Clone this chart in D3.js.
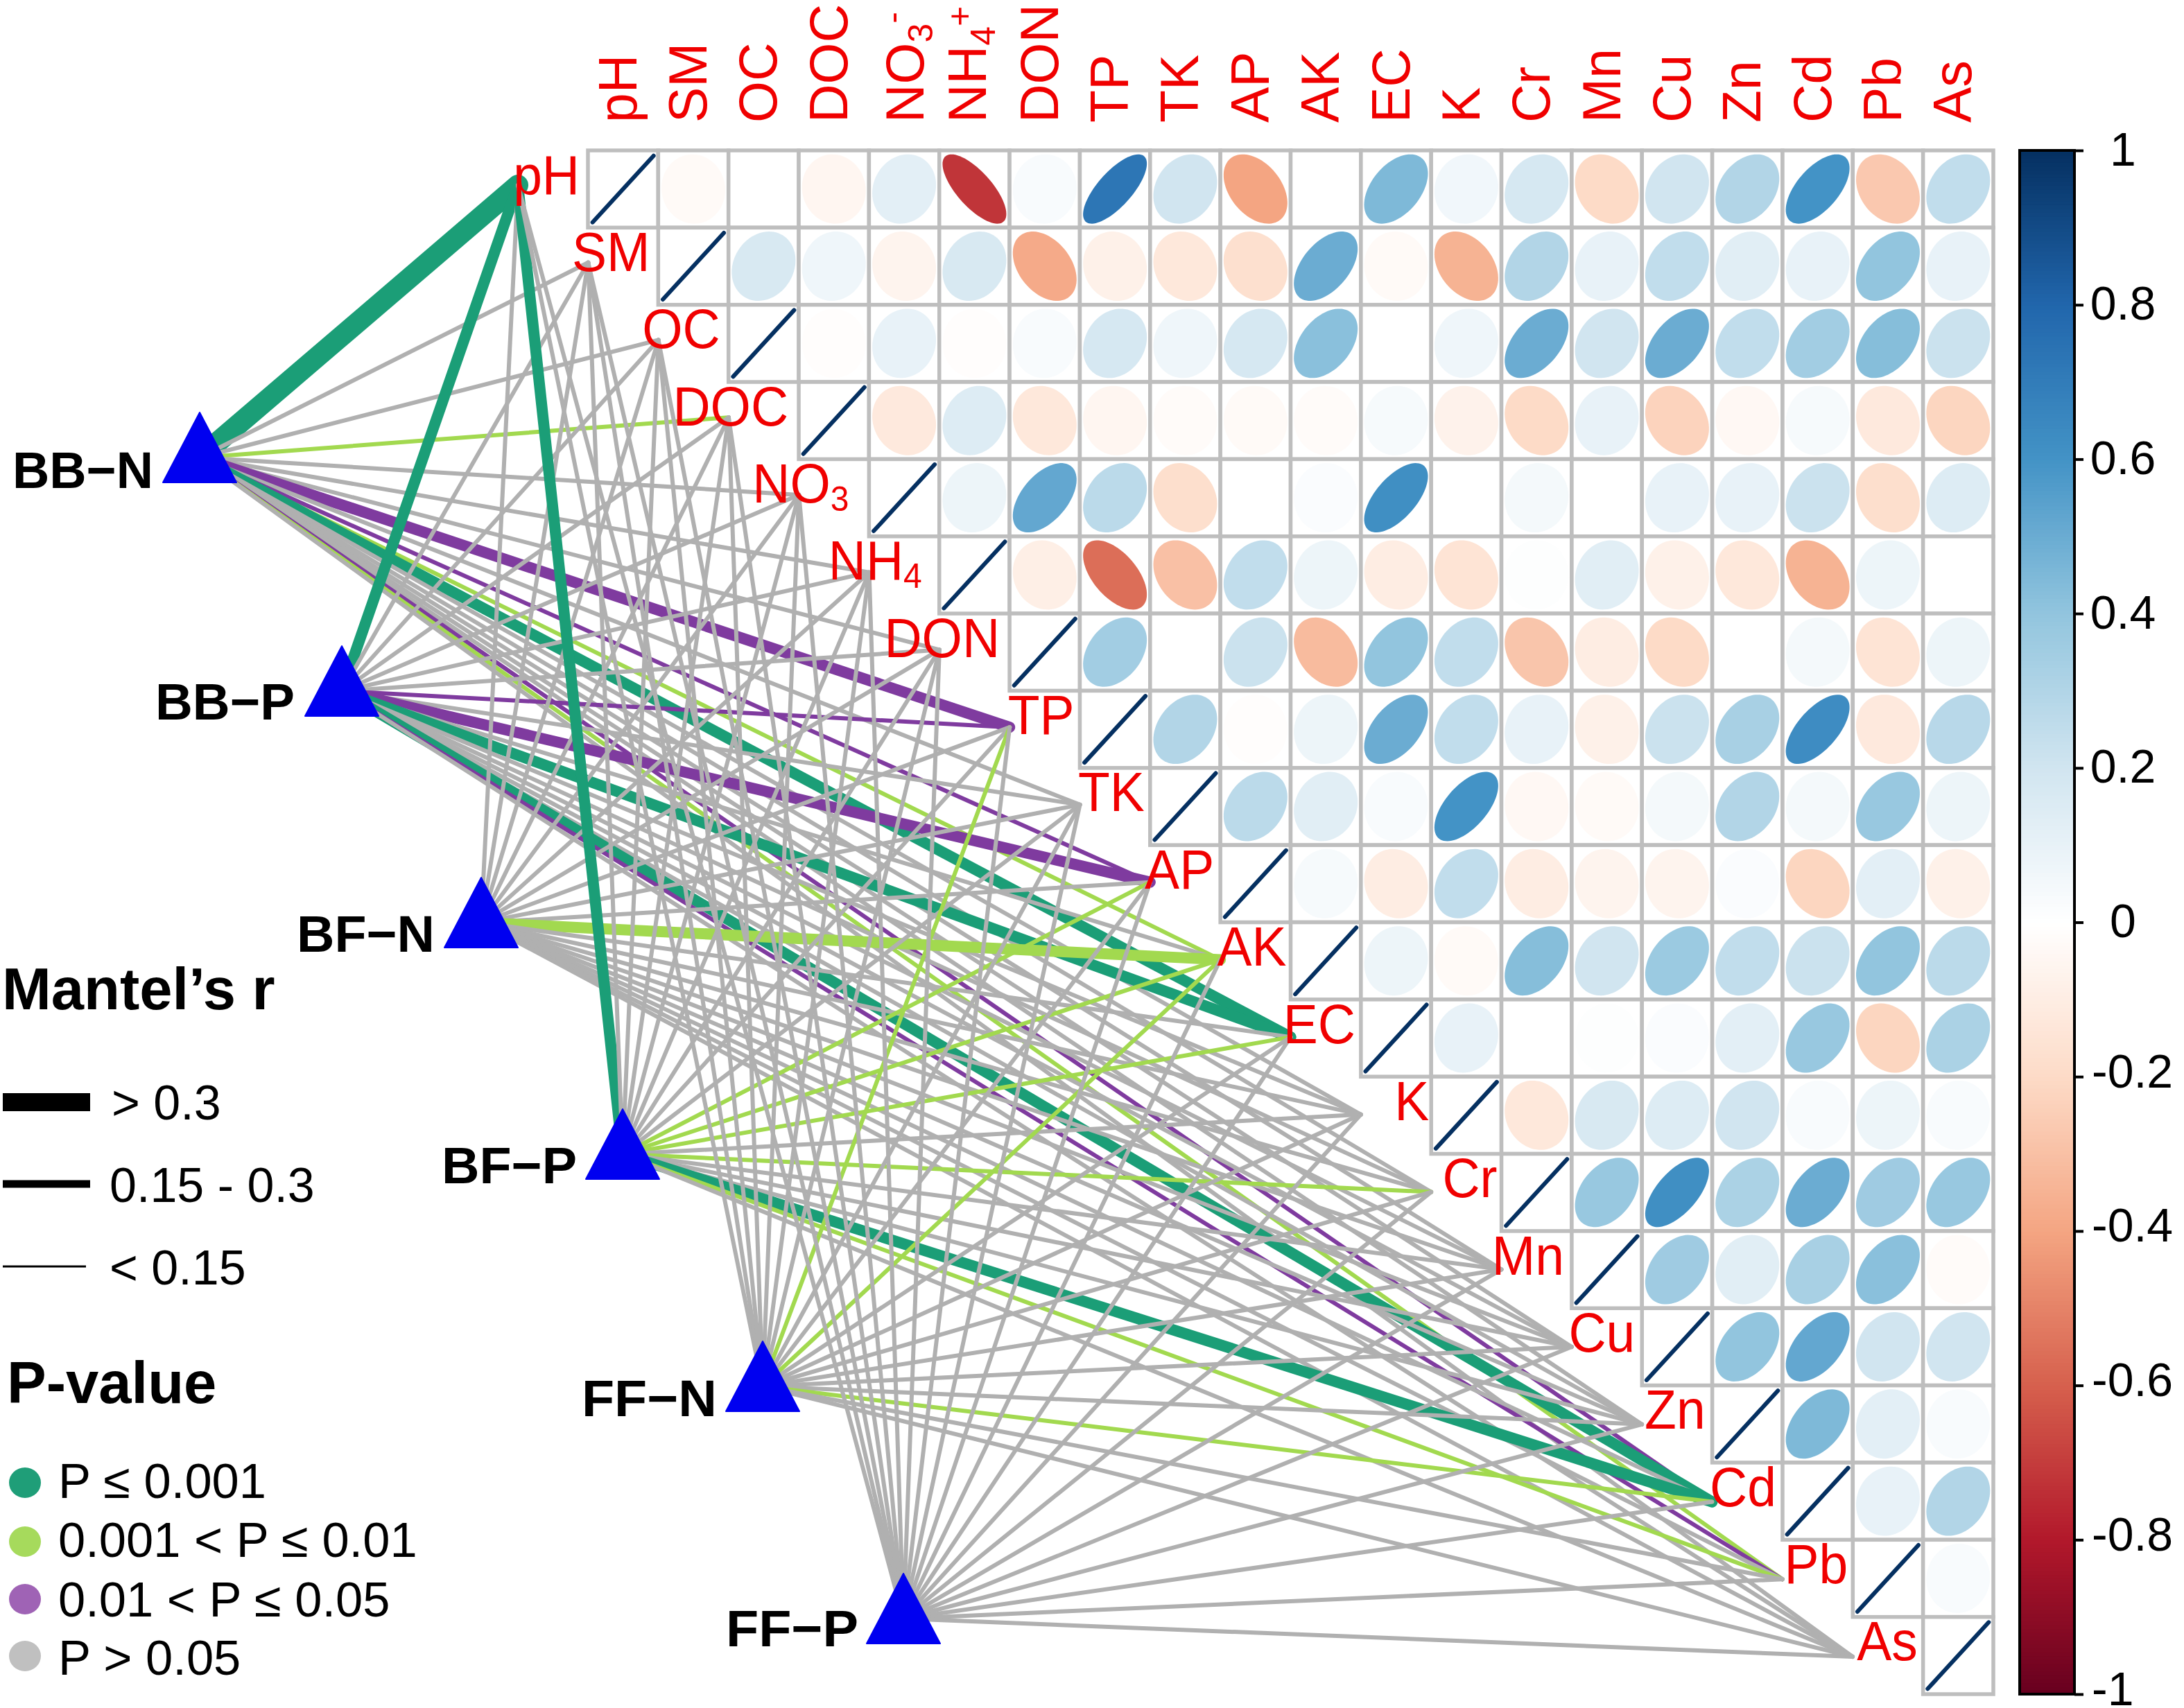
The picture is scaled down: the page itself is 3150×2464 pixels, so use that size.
<!DOCTYPE html>
<html><head><meta charset="utf-8">
<script src="https://cdn.jsdelivr.net/npm/d3@7"></script>
<style>html,body{margin:0;padding:0;background:#fff}svg{display:block}text{font-family:"Liberation Sans",Arial,sans-serif}</style>
</head><body><svg id="c" width="3150" height="2464" xmlns="http://www.w3.org/2000/svg"></svg>
<script>
const envs=["pH","SM","OC","DOC","NO3","NH4","DON","TP","TK","AP","AK","EC","K","Cr","Mn","Cu","Zn","Cd","Pb","As"];
const specs=["BB−N","BB−P","BF−N","BF−P","FF−N","FF−P"];
// upper-triangle correlations, each row starts right after its diagonal cell
const corPH=[-0.03,0,-0.05,0.12,-0.72,0.03,0.73,0.2,-0.4,0,0.45,0.06,0.18,-0.2,0.2,0.3,0.6,-0.27,0.25];
const corSM=[0.17,0.07,-0.06,0.17,-0.38,-0.08,-0.13,-0.17,0.5,-0.03,-0.35,0.3,0.1,0.25,0.13,0.1,0.4,0.1];
const corOC=[-0.01,0.1,-0.01,0.03,0.18,0.07,0.18,0.42,0,0.07,0.5,0.2,0.5,0.25,0.35,0.43,0.22];
const corDOC=[-0.12,0.15,-0.13,-0.05,-0.02,-0.03,-0.02,0.04,-0.07,-0.2,0.1,-0.23,-0.04,0.04,-0.12,-0.22];
const corNO3=[0.08,0.52,0.27,-0.18,0,0.02,0.62,0,0.05,0,0.1,0.1,0.22,-0.18,0.15];
const corNH4=[-0.09,-0.56,-0.3,0.25,0.08,-0.1,-0.15,0.01,0.13,-0.08,-0.13,-0.35,0.08,0];
const corDON=[0.35,0,0.22,-0.32,0.4,0.25,-0.28,-0.1,-0.2,0,0.05,-0.15,0.08];
const corTP=[0.3,-0.01,0.08,0.5,0.25,0.1,-0.08,0.22,0.33,0.63,-0.12,0.28];
const corTK=[0.27,0.13,0.03,0.6,-0.04,-0.03,0.05,0.3,0.05,0.38,0.08];
const corAP=[0.04,-0.1,0.25,-0.1,-0.06,-0.06,0.02,-0.22,0.12,-0.08];
const corAK=[0.08,-0.03,0.43,0.2,0.37,0.25,0.22,0.4,0.27];
const corEC=[0.1,0,0.01,0.02,0.12,0.38,-0.22,0.32];
const corK=[-0.13,0.17,0.15,0.2,0.03,0.08,0.03];
const corCr=[0.38,0.62,0.32,0.5,0.36,0.38];
const corMn=[0.36,0.13,0.33,0.42,-0.02];
const corCu=[0.4,0.52,0.2,0.2];
const corZn=[0.45,0.12,0.03];
const corCd=[0.1,0.3];
const corPb=[0.03];
const corRows=[corPH,corSM,corOC,corDOC,corNO3,corNH4,corDON,corTP,corTK,corAP,corAK,corEC,corK,corCr,corMn,corCu,corZn,corCd,corPb,[]];
// Mantel links: P class 0 >0.05, 1 <=0.001, 2 <=0.01, 3 <=0.05 ; r class 0 <0.15, 1 0.15-0.3, 2 >0.3
const pBBN=[1,0,0,2,0,0,0,3,0,3,2,1,0,0,0,0,0,3,2,0];
const rBBN=[2,0,0,0,0,0,0,1,0,0,0,1,0,0,0,0,0,0,0,0];
const pBBP=[1,0,0,0,0,0,0,3,0,3,0,1,0,0,0,0,0,1,3,0];
const rBBP=[1,0,0,0,0,0,0,0,0,1,0,1,0,0,0,0,0,1,0,0];
const pBFN=[0,0,0,0,0,0,0,0,0,0,2,0,0,0,0,0,0,0,0,0];
const rBFN=[0,0,0,0,0,0,0,0,0,0,1,0,0,0,0,0,0,0,0,0];
const pBFP=[1,0,0,0,0,0,0,0,0,2,2,2,0,2,0,0,0,1,2,0];
const rBFP=[1,0,0,0,0,0,0,0,0,0,0,0,0,0,0,0,0,1,0,0];
const pFFN=[0,0,0,0,0,0,0,2,0,0,2,0,0,0,0,0,0,2,0,0];
const rFFN=[0,0,0,0,0,0,0,0,0,0,0,0,0,0,0,0,0,0,0,0];
const pFFP=[0,0,0,0,0,0,0,0,0,0,0,0,0,0,0,0,0,0,0,0];
const rFFP=[0,0,0,0,0,0,0,0,0,0,0,0,0,0,0,0,0,0,0,0];
const linkP=[pBBN,pBBP,pBFN,pBFP,pFFN,pFFP], linkR=[rBBN,rBBP,rBFN,rBFP,rFFN,rFFP];
const barTicks=[1,0.8,0.6,0.4,0.2,0,-0.2,-0.4,-0.6,-0.8,-1];
const ramp=["#67001F","#B2182B","#D6604D","#F4A582","#FDDBC7","#FFFFFF","#D1E5F0","#92C5DE","#4393C6","#2166AC","#053061"];
const pColors=["#B0B0B0","#1B9E77","#A2D94F","#7F3B9F"];
const rWidths=[6,16,30];
const labelGap=[12,12,12,15,29,25,14,8,8,9,6,8,3,6,11,10,10,9,7,8];

const svg=d3.select("#c");
svg.append("rect").attr("width",3150).attr("height",2464).attr("fill","#fff");
const gridL=848,gridR=2875,gridT=217,gridB=2444;
const x=d3.scaleBand().domain(envs).range([gridL,gridR]);
const y=d3.scaleBand().domain(envs).range([gridT,gridB]);
const nodeX=d3.scalePoint().domain(envs).range([747,2672]);
const nodeY=d3.scalePoint().domain(envs).range([267,2390]);
const specX=d3.scaleOrdinal().domain(specs).range([288,493,694,898,1100,1303]);
const specY=d3.scaleOrdinal().domain(specs).range([660,997,1331,1665,2000,2335]);
const color=d3.scaleLinear().domain(d3.range(-1,1.01,0.2).map(v=>+v.toFixed(1))).range(ramp).clamp(true);
const red="#F00000";

// links
const links=[];
specs.forEach((s,i)=>envs.forEach((e,j)=>links.push({s,e,p:linkP[i][j],r:linkR[i][j]})));
svg.append("g").selectAll("line").data(links).join("line")
 .attr("x1",d=>specX(d.s)).attr("y1",d=>specY(d.s)).attr("x2",d=>nodeX(d.e)).attr("y2",d=>nodeY(d.e))
 .attr("stroke",d=>pColors[d.p]).attr("stroke-width",d=>rWidths[d.r]).attr("stroke-linecap","round");

// triangles
svg.append("g").selectAll("path").data(specs).join("path")
 .attr("transform",d=>`translate(${specX(d)},${specY(d)})`)
 .attr("d","M0,-65L53,36L-53,36Z").attr("fill","#0000F0").attr("stroke","#0000F0").attr("stroke-width",2).attr("stroke-linejoin","round");
const specEnd=[221,425,627,832,1034,1238], specBase=[704,1038,1373,1707,2043,2375], specLen=[203,201,199,195,195,191];
svg.append("g").selectAll("text").data(specs).join("text")
 .attr("x",(d,i)=>specEnd[i]-specLen[i]).attr("y",(d,i)=>specBase[i])
 .attr("textLength",(d,i)=>specLen[i]).attr("lengthAdjust","spacingAndGlyphs")
 .attr("font-size",75).attr("font-weight","bold").attr("fill","#000").text(d=>d);

// grid cells
const cells=[];
envs.forEach((a,i)=>{for(let j=i;j<envs.length;j++)cells.push({a,b:envs[j],i,j,v:i===j?1:corRows[i][j-i-1]});});
const gc=svg.append("g");
gc.selectAll("rect").data(cells).join("rect")
 .attr("x",d=>x(d.b)).attr("y",d=>y(d.a)).attr("width",x.bandwidth()).attr("height",y.bandwidth())
 .attr("fill","#fff").attr("stroke","#BEBEBE").attr("stroke-width",5.5);
const rx=46,ry=50;
const ell=d3.line();
function ellipsePath(r){const a=Math.acos(Math.max(-1,Math.min(1,r)));
 return ell(d3.range(0,Math.PI*2,Math.PI/40).map(t=>[rx*Math.cos(t+a/2),-ry*Math.cos(t-a/2)]))+"Z";}
gc.selectAll("path").data(cells).join("path")
 .attr("transform",d=>`translate(${x(d.b)+x.bandwidth()/2},${y(d.a)+y.bandwidth()/2})`)
 .attr("d",d=>d.i===d.j?`M${-rx+2},${ry-2}L${rx-2},${-ry+2}`:ellipsePath(d.v))
 .attr("fill",d=>color(d.v)).attr("stroke",d=>d.i===d.j?color(1):"none").attr("stroke-width",6).attr("stroke-linecap","round");

// labels with sub/superscripts
function addLabel(sel,name,top){
 const subSize=top?50:48;
 if(name==="NO3"||name==="NH4"){
  sel.append("tspan").text(name.slice(0,2));
  sel.append("tspan").attr("font-size",subSize).attr("dy",top?13:11).text(name[2]);
  if(top){sel.append("tspan").attr("font-size",subSize).attr("dy",name==="NO3"?-41:-34).text(name==="NO3"?"-":"+");}
 } else sel.text(name);
}
envs.forEach((e,i)=>{
 const t=svg.append("text").attr("transform",`translate(${x(e)-labelGap[i]},${y(e)+y.bandwidth()/2+7}) scale(1,1.05)`)
  .attr("text-anchor","end").attr("font-size",75).attr("fill",red);
 addLabel(t,e,false);
 const off=e==="NO3"?28:(e==="NH4"?17:19);
 const u=svg.append("text").attr("transform",`translate(${x(e)+x.bandwidth()/2+off},177) rotate(-90)`)
  .attr("font-size",77).attr("fill",red);
 addLabel(u,e,true);
});

// colour bar
const barScale=d3.scaleLinear().domain([-1,1]).range([gridB,gridT]);
const barL=2913,barR=2992;
const barG=svg.append("g");
const steps=d3.range(0,400);
barG.selectAll("rect").data(steps).join("rect")
 .attr("x",barL).attr("width",barR-barL)
 .attr("y",d=>barScale(-1+(d+1)*2/400)).attr("height",(gridB-gridT)/400+1)
 .attr("fill",d=>color(-1+(d+0.5)*2/400));
barG.append("rect").attr("x",barL).attr("y",gridT).attr("width",barR-barL).attr("height",gridB-gridT)
 .attr("fill","none").attr("stroke","#000").attr("stroke-width",4);
const axis=d3.axisRight(barScale).tickValues(barTicks).tickSize(13).tickFormat(v=>String(v));
const ag=svg.append("g").attr("transform",`translate(${barR},0)`).call(axis);
ag.select(".domain").remove();
ag.selectAll(".tick line").attr("stroke","#000").attr("stroke-width",4);
ag.selectAll(".tick text").attr("font-size",68).attr("fill","#000").attr("dy",null)
 .attr("y",d=>d<0?15:21).attr("text-anchor",d=>d<0?"start":"middle").attr("x",d=>d<0?3017-barR:3062-barR)
 .style("font-family",'"Liberation Sans",Arial,sans-serif');

// legends
const legR=["> 0.3","0.15 - 0.3","< 0.15"], legRy=[1590,1708,1827], legRb=[1615,1734,1853], legRx=[161,158,158], legRw=[26,11,3];
const lg=svg.append("g");
lg.append("text").attr("x",3).attr("y",1456).attr("font-size",85).attr("font-weight","bold").text("Mantel’s r");
legR.forEach((t,i)=>{
 lg.append("rect").attr("x",4).attr("y",legRy[i]-legRw[i]/2).attr("width",i===2?120:126).attr("height",legRw[i]).attr("fill","#000");
 lg.append("text").attr("x",legRx[i]).attr("y",legRb[i]).attr("font-size",70).text(t);
});
lg.append("text").attr("x",10).attr("y",2024).attr("font-size",85).attr("font-weight","bold").text("P-value");
const legP=["P ≤ 0.001","0.001 < P ≤ 0.01","0.01 < P ≤ 0.05","P > 0.05"], legPc=["#1F9E78","#A6DA5C","#9F63B5","#C0C0C0"], legPy=[2139,2224,2307,2389], legPb=[2161,2246,2332,2416];
legP.forEach((t,i)=>{
 lg.append("ellipse").attr("cx",36).attr("cy",legPy[i]).attr("rx",23).attr("ry",22).attr("fill",legPc[i]);
 lg.append("text").attr("x",84).attr("y",legPb[i]).attr("font-size",70.5).text(t);
});
</script></body></html>
